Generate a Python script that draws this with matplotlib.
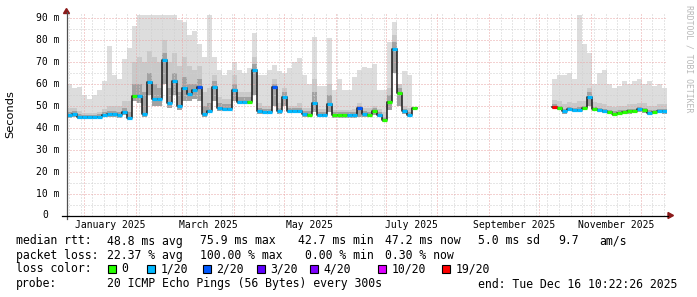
import numpy as np
import matplotlib.pyplot as plt
import matplotlib.dates as mdates
from matplotlib.lines import Line2D
from matplotlib.patches import Polygon, Rectangle
from matplotlib.transforms import blended_transform_factory
from datetime import datetime, timedelta

W, H = 697, 297
nan = np.nan
MONO = 'DejaVu Sans Mono'

end_time = datetime(2025, 12, 16, 10, 22, 26)
start_time = end_time - timedelta(days=360)
bucket_days = 3

# ---- smokeping data, 3-day buckets (ms) ----
# block a: Dec 2024 .. Jul 2025, block b: Sep .. Dec 2025
median_a = [45.5, 46.2, 44.8, 44.7, 44.7, 44.7, 45.0, 45.8, 46.2, 46.3,
            45.6, 47.0, 44.5, 54.5, 54.2, 46.3, 60.5, 52.9, 52.9, 70.7,
            51.1, 61.0, 49.9, 58.0, 55.2, 57.0, 58.6, 46.0, 47.5, 58.2,
            48.8, 48.5, 48.5, 57.0, 51.8, 51.8, 51.8, 66.0, 47.3, 47.0,
            47.0, 58.6, 47.3, 54.0, 47.6, 47.6, 47.6, 46.1, 45.8, 51.0,
            45.8, 45.8, 50.6, 45.5, 45.5, 45.5, 45.5, 45.5, 48.8, 46.0,
            45.8, 47.6, 45.8, 43.5, 51.8, 75.9, 55.6, 47.3, 45.8, 48.8]
loss_a = [1, 1, 1, 1, 1, 1, 1, 1, 1, 1,
          1, 1, 1, 0, 1, 1, 1, 1, 1, 1,
          1, 1, 1, 1, 1, 1, 2, 1, 1, 1,
          1, 1, 1, 1, 1, 1, 0, 1, 1, 1,
          1, 2, 1, 1, 1, 1, 1, 1, 0, 1,
          1, 1, 1, 0, 0, 0, 1, 1, 2, 1,
          0, 0, 1, 0, 0, 1, 0, 1, 1, 0]
top_a = [60, 58, 58.5, 55, 53, 55, 57, 61, 77, 64,
         62, 71, 76, 86, 91, 91, 91, 91, 91, 91,
         91, 91, 89, 88, 82, 84, 78, 72, 91, 72,
         66, 64, 66, 70, 66, 65, 67, 83, 64, 64,
         66, 68.5, 65.5, 65, 67, 70, 71.5, 64, 60, 81,
         59, 59, 80.6, 57, 62, 57, 57, 63, 66, 67.7,
         67, 69, 57, 57, 79, 88, 60, 65.5, 64, 62]
mid_a = [49, 49, 47.5, 46.5, 46.5, 46.5, 47, 48.5, 50, 50,
         50, 52, 52, 70, 72, 70, 75, 72, 70, 80,
         70, 74, 68, 72, 68, 66, 68, 56, 58, 64,
         54, 53, 53, 64, 56, 56, 56, 72, 51, 50,
         50, 62, 51, 58, 50, 50, 51, 49, 49, 62,
         48.5, 48.5, 60, 48, 48, 48, 48, 48.5, 51, 49,
         49, 50, 48.5, 47, 58, 82, 60, 50, 49, 51]
dark_a = [47, 47.5, 46, 45.5, 45.5, 45.5, 46, 47, 47.5, 47.5,
          47, 49, 47, 60, 60, 56, 65, 60, 58, 74,
          58, 65, 56, 63, 60, 60, 62, 50, 51, 61,
          51, 50.5, 50.5, 60, 54, 54, 54, 69, 49, 48.5,
          48.5, 60, 49, 56, 49, 49, 49, 47.5, 47.5, 56,
          47, 47, 55, 47, 47, 47, 47, 47, 50, 47.5,
          47, 49, 47, 45, 55, 79, 58, 48.5, 47, 50]
low_a = [44.5, 45, 44, 44, 44, 44, 44.2, 44.8, 45, 45,
         44.5, 45.5, 43.5, 52, 51, 45, 55, 50, 50, 60,
         49, 55, 48, 52, 52, 53, 52, 44.8, 46.5, 52,
         47.5, 47.3, 47.3, 52, 50.5, 50.5, 50.5, 55, 46.3, 46,
         46, 50, 46.3, 50, 46.6, 46.6, 46.6, 45, 44.8, 47,
         44.8, 44.8, 47, 44.5, 44.5, 44.5, 44.5, 44.5, 45, 45,
         44.8, 45.5, 44.8, 42.5, 48, 65, 50, 46.3, 44.8, 46]

median_b = [49.5, 49.0, 47.3, 48.5, 48.0, 48.0, 49.0, 54.0, 48.5, 48.0, 47.5, 47.0,
            46.2, 46.8, 47.0, 47.3, 47.5, 48.2, 47.8, 46.8, 47.0, 47.5, 47.3]
loss_b = [19, 0, 1, 1, 1, 1, 0, 1, 0, 1, 1, 0, 0, 0, 0, 0, 0, 1, 0, 1, 0, 1, 1]
top_b = [62, 64, 64, 65, 62, 91, 78, 74, 60, 65, 66, 60,
         58, 59, 61, 60, 61, 62, 60, 61, 59, 60, 58]
mid_b = [52.5, 52, 50.5, 51.5, 51, 52, 52, 58, 51.5, 51, 50.5, 50,
         49.5, 50, 50, 50.5, 50.5, 51, 51, 50, 50, 50.5, 50.5]
dark_b = [50.5, 50, 48.5, 49.5, 49, 49.5, 50, 56, 49.5, 49, 48.5, 48,
          47.3, 48, 48, 48.3, 48.5, 49.2, 48.8, 48, 48, 48.5, 48.3]
low_b = [48.5, 47.8, 46.3, 47.3, 47, 47, 48, 50, 47.5, 47, 46.5, 46,
         45.2, 45.8, 46, 46.3, 46.5, 47.2, 46.8, 45.8, 46, 46.5, 46.3]

gap = 27  # buckets with no data (Jul .. Sep)

loss_keys = [0, 1, 2, 3, 4, 10, 19]
loss_labels = ['0', '1/20', '2/20', '3/20', '4/20', '10/20', '19/20']
loss_colors = ['#26ff00', '#00b8ff', '#0059ff', '#5e00ff', '#7e00ff', '#dd00ff', '#ff0000']

month_labels = ['January 2025', 'March 2025', 'May 2025',
                'July 2025', 'September 2025', 'November 2025']
label_months = [(2025, 1), (2025, 3), (2025, 5), (2025, 7), (2025, 9), (2025, 11)]

stats_rtt = ['48.8 ms avg', '75.9 ms max', '42.7 ms min', '47.2 ms now', '5.0 ms sd', '9.7', 'am/s']
stats_loss = ['22.37 % avg', '100.00 % max', '0.00 % min', '0.30 % now']
probe_text = '20 ICMP Echo Pings (56 Bytes) every 300s'
end_text = 'end: Tue Dec 16 10:22:26 2025'

# ---- assemble ----
def full(a, b):
    return np.array(a + [nan] * gap + b, dtype=float)

median = full(median_a, median_b)
top = full(top_a, top_b)
mid = full(mid_a, mid_b)
dark = full(dark_a, dark_b)
low = full(low_a, low_b)
loss = loss_a + [None] * gap + loss_b

n = len(median)
edges = mdates.date2num([start_time + timedelta(days=bucket_days * k) for k in range(n + 1)])


def ext(y):
    return np.append(y, y[-1])


fig = plt.figure(figsize=(W / 100, H / 100), dpi=100)
fig.patch.set_facecolor('white')


def fx(px):
    return px / W


def fy(py):
    return 1 - py / H


ax = fig.add_axes([fx(66.5), fy(215.5), 600 / W, 202.5 / H])
ax.set_xlim(mdates.date2num(start_time), mdates.date2num(end_time))
ax.set_ylim(0, 92.05)

# smoke
ax.fill_between(edges, ext(low), ext(top), step='post', color='#dddddd', lw=0, zorder=1)
ax.fill_between(edges, ext(low), ext(mid), step='post', color='#c9c9c9', lw=0, zorder=1.1)
ax.fill_between(edges, ext(low), ext(dark), step='post', color='#a2a2a2', lw=0, zorder=1.2)

# median line
ax.step(edges, ext(median), where='post', color='#1a1a1a', lw=1.1, zorder=3)
seg_y, seg_x0, seg_x1, seg_c = [], [], [], []
for k in range(n):
    if loss[k] is None:
        continue
    seg_y.append(median[k])
    seg_x0.append(edges[k])
    seg_x1.append(edges[k + 1])
    seg_c.append(loss_colors[loss_keys.index(loss[k])])
ax.hlines(seg_y, seg_x0, seg_x1, colors=seg_c, lw=2.3, zorder=4)

# grid
ax.set_yticks(np.arange(0, 91, 10))
ax.set_yticks(np.arange(5, 91, 10), minor=True)
ax.xaxis.set_major_locator(mdates.MonthLocator())
ax.xaxis.set_minor_locator(mdates.WeekdayLocator(byweekday=mdates.MO))
ax.set_axisbelow(False)
ax.grid(which='minor', color='#cfcfcf', linestyle=(0, (1, 2)), lw=0.72, zorder=2)
ax.grid(which='major', color='#e8a4a4', linestyle=(0, (1, 2)), lw=0.72, zorder=2)
ax.tick_params(which='both', length=0, labelleft=False, labelbottom=False)
for s in ax.spines.values():
    s.set_visible(False)

# y labels
tr_y = blended_transform_factory(fig.transFigure, ax.transData)
for v in range(10, 91, 10):
    fig.text(fx(59.5), 0, f'{v} m', transform=tr_y, ha='right', va='center',
             family=MONO, fontsize=7.0).set_y(v)
fig.text(fx(47.8), 0, '0', transform=tr_y, ha='right', va='center',
         family=MONO, fontsize=7.0).set_y(0)

# month labels centred in the month
tr_x = blended_transform_factory(ax.transData, fig.transFigure)
for (yy, mm), lab in zip(label_months, month_labels):
    a = mdates.date2num(datetime(yy, mm, 1))
    b = mdates.date2num(datetime(yy + (mm == 12), mm % 12 + 1, 1))
    ax.text((a + b) / 2, fy(224.5), lab, transform=tr_x, ha='center', va='center',
            family=MONO, fontsize=7.0)

# axes lines and arrows
fig.add_artist(Line2D([fx(66.5), fx(66.5)], [fy(219), fy(12)], color='#505050', lw=0.9))
fig.add_artist(Line2D([fx(62), fx(668)], [fy(215.5), fy(215.5)], color='black', lw=0.9))
fig.add_artist(Polygon([[fx(63.5), fy(13.5)], [fx(69.5), fy(13.5)], [fx(66.5), fy(8.5)]],
                       closed=True, color='#8b1a1a', transform=fig.transFigure))
fig.add_artist(Polygon([[fx(668), fy(212.5)], [fx(668), fy(218.5)], [fx(673.5), fy(215.5)]],
                       closed=True, color='#8b1a1a', transform=fig.transFigure))

fig.text(fx(10), fy(114), 'Seconds', rotation=90, ha='center', va='center',
         family='DejaVu Sans', fontsize=8.2)
fig.text(fx(688.5), fy(59), 'RRDTOOL / TOBI OETIKER', rotation=270, ha='center', va='center',
         family=MONO, fontsize=5.9, color='#b8b8b8')

# legend
LF = 8.3
fig.text(fx(16), fy(241), 'median rtt:', family=MONO, fontsize=LF, va='center')
for xp, s in zip([107, 200, 298, 385, 478, 558, 599], stats_rtt):
    fig.text(fx(xp), fy(241), s, family=MONO, fontsize=LF, va='center')
fig.text(fx(16), fy(255.5), 'packet loss:', family=MONO, fontsize=LF, va='center')
for xp, s in zip([107, 200, 305, 385], stats_loss):
    fig.text(fx(xp), fy(255.5), s, family=MONO, fontsize=LF, va='center')
fig.text(fx(16), fy(269), 'loss color:', family=MONO, fontsize=LF, va='center')
for xp, lab, col in zip([108, 147, 203, 257, 310, 378, 442], loss_labels, loss_colors):
    fig.add_artist(Rectangle((fx(xp), fy(273)), 8 / W, 8 / H, facecolor=col,
                             edgecolor='black', lw=0.8, transform=fig.transFigure))
    fig.text(fx(xp + 13.5), fy(269), lab, family=MONO, fontsize=LF, va='center')
fig.text(fx(16), fy(284), 'probe:', family=MONO, fontsize=LF, va='center')
fig.text(fx(107), fy(284), probe_text, family=MONO, fontsize=LF, va='center')
fig.text(fx(478), fy(284), end_text, family=MONO, fontsize=LF, va='center')

fig.savefig('out.png', dpi=100)
